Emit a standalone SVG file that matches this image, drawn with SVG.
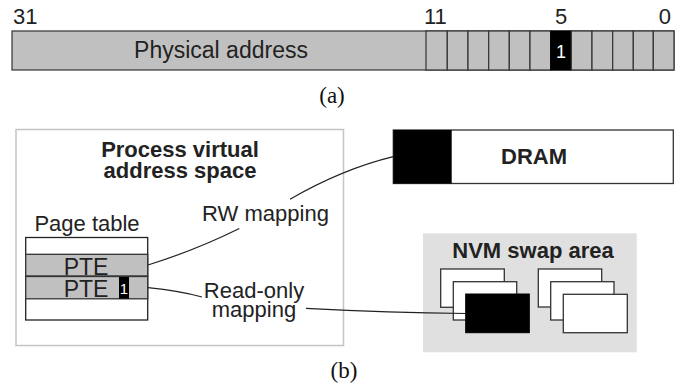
<svg xmlns="http://www.w3.org/2000/svg" width="683" height="390" viewBox="0 0 683 390">
<style>
.t{font-family:"Liberation Sans",Arial,sans-serif;fill:#222}
.b{font-weight:bold}
.s{font-family:"Liberation Serif","Times New Roman",serif;fill:#111}
.cell{fill:#c0c0c0;stroke:#333;stroke-width:1.2}
.blk{fill:#000;stroke:#000}
.pg{fill:#fff;stroke:#333;stroke-width:1.3}
.con{fill:none;stroke:#222;stroke-width:1.2}
</style>
<rect width="683" height="390" fill="#fff"/>

<g id="address-bar">
  <rect class="cell" x="12" y="31" width="662" height="39"/>
  <g id="bit-cells">
    <rect class="cell" x="426" y="31" width="21.3" height="39"/>
    <rect class="cell" x="447.3" y="31" width="20.7" height="39"/>
    <rect class="cell" x="468" y="31" width="20.7" height="39"/>
    <rect class="cell" x="488.7" y="31" width="20.6" height="39"/>
    <rect class="cell" x="509.3" y="31" width="20.7" height="39"/>
    <rect class="cell" x="530" y="31" width="20.7" height="39"/>
    <rect class="blk" x="550.7" y="31" width="20.6" height="39"/>
    <rect class="cell" x="571.3" y="31" width="20.7" height="39"/>
    <rect class="cell" x="592" y="31" width="20.7" height="39"/>
    <rect class="cell" x="612.7" y="31" width="20.6" height="39"/>
    <rect class="cell" x="633.3" y="31" width="20" height="39"/>
    <rect class="cell" x="653.3" y="31" width="20.7" height="39"/>
  </g>
  <text class="t" x="221" y="58" font-size="23" text-anchor="middle">Physical address</text>
  <text x="561" y="58" font-size="18" text-anchor="middle" font-family="Liberation Sans,Arial,sans-serif" fill="#fff">1</text>
  <text class="t" x="13" y="24" font-size="22">31</text>
  <text class="t" x="424" y="24" font-size="22">11</text>
  <text class="t" x="561" y="24" font-size="22" text-anchor="middle">5</text>
  <text class="t" x="671" y="24" font-size="22" text-anchor="end">0</text>
  <text class="s" x="332" y="103" font-size="23" text-anchor="middle">(a)</text>
</g>

<g id="process-space">
  <rect x="16" y="129.5" width="327.5" height="216" fill="#fff" stroke="#c4c4c4" stroke-width="1.5"/>
  <text class="t b" x="180" y="157" font-size="22" text-anchor="middle">Process virtual</text>
  <text class="t b" x="180" y="178" font-size="22" text-anchor="middle">address space</text>
</g>

<g id="page-table">
  <text class="t" x="87" y="231" font-size="22" text-anchor="middle">Page table</text>
  <rect x="25.7" y="237.5" width="122" height="82.5" fill="#fff" stroke="#222" stroke-width="1.3"/>
  <rect x="25.7" y="254.3" width="122" height="21.7" fill="#c0c0c0" stroke="#333" stroke-width="1.3"/>
  <rect x="25.7" y="276.5" width="122" height="22.3" fill="#c0c0c0" stroke="#333" stroke-width="1.3"/>
  <text class="t" x="86" y="274.5" font-size="23" text-anchor="middle">PTE</text>
  <text class="t" x="86" y="297" font-size="23" text-anchor="middle">PTE</text>
  <rect x="119" y="277" width="10" height="21.7" fill="#000"/>
  <text x="124" y="294" font-size="15" text-anchor="middle" font-family="Liberation Sans,Arial,sans-serif" fill="#fff">1</text>
</g>

<g id="dram">
  <rect x="393.3" y="130" width="280" height="53.5" fill="#fff" stroke="#333" stroke-width="1.3"/>
  <rect x="393.3" y="130" width="58.4" height="53.5" fill="#000"/>
  <text class="t b" x="534" y="164" font-size="22" text-anchor="middle">DRAM</text>
</g>

<g id="nvm-swap">
  <rect x="423" y="233.3" width="213.7" height="119" fill="#e0e0e0"/>
  <text class="t b" x="533" y="257.5" font-size="22" text-anchor="middle">NVM swap area</text>
  <rect class="pg" x="440.7" y="269" width="63.6" height="38.3"/>
  <rect class="pg" x="453.3" y="281.7" width="63.4" height="38.3"/>
  <rect class="blk" x="465.7" y="294" width="63.6" height="38.7"/>
  <rect class="pg" x="538.3" y="269" width="63.4" height="38"/>
  <rect class="pg" x="550.7" y="281.7" width="63.3" height="38.3"/>
  <rect class="pg" x="563.3" y="294.3" width="64" height="38.4"/>
</g>

<g id="labels">
  <text class="t" x="265.5" y="221" font-size="22" text-anchor="middle">RW mapping</text>
  <text class="t" x="254" y="297.5" font-size="22" text-anchor="middle">Read-only</text>
  <text class="t" x="254" y="316.5" font-size="22" text-anchor="middle">mapping</text>
  <text class="s" x="344" y="378" font-size="23" text-anchor="middle">(b)</text>
</g>

<g id="connectors">
  <path class="con" d="M148,265 Q196,250 239.3,228.5"/>
  <path class="con" d="M290,199.3 C320,182 355,166 393.3,156.7"/>
  <path class="con" d="M148,287.7 Q180,291 202,297"/>
  <path class="con" d="M306,308.3 Q390,312.5 466,313.5"/>
</g>
</svg>
